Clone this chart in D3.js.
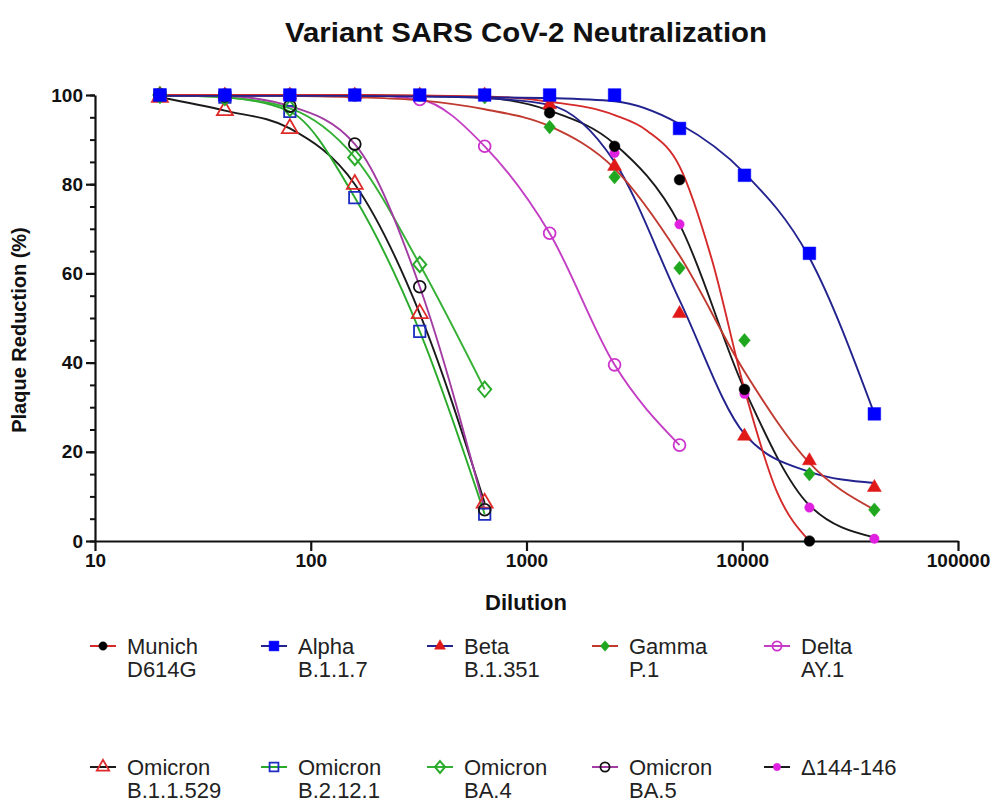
<!DOCTYPE html>
<html>
<head>
<meta charset="utf-8">
<script src="https://cdn.jsdelivr.net/npm/d3@7"></script>
<style>
  html, body { margin: 0; padding: 0; background: #fff; }
  svg { display: block; }
  text { font-family: "Liberation Sans", Arial, sans-serif; }
</style>
</head>
<body>
<svg id="chart" width="995" height="807"></svg>
<script>
// ---------- DATA ----------
const dilutions = [20, 40, 80, 160, 320, 640, 1280, 2560, 5120, 10240, 20480, 40960];
const xTicks = [10, 100, 1000, 10000, 100000];
const yTicks = [0, 20, 40, 60, 80, 100];

// measured points (values in order of dilutions)
const munichPts = [100, 100, 100, 100, 100, 100, 96, 88.5, 81, 34, 0];
const alphaPts  = [100, 100, 100, 100, 100, 100, 100, 100, 92.5, 82, 64.5, 28.5];
const betaPts   = [100, 100, 100, 100, 100, 100, 97.8, 84, 51, 23.5, 18, 12];
const gammaPts  = [100, 100, 100, 100, 100, 99.5, 92.8, 81.6, 61.2, 45, 15, 7];
const deltaPts  = [100, 100, 100, 100, 99, 88.5, 69, 39.5, 21.5];
const del144Pts = [100, 100, 100, 100, 100, 100, 100, 87, 71, 33, 7.5, 0.5];
const b11529Pts = [99.5, 96.5, 92.5, 80, 51, 8.5];
const b2121Pts  = [100, 99.5, 96.3, 77, 47, 6];
const ba4Pts    = [100, 99.5, 97, 86, 62, 34];
const ba5Pts    = [100, 99.8, 97.5, 89, 57, 7];

// fitted curves
const munichFitX = [20, 40, 80, 160, 320, 640, 1280, 2560, 3620, 5120, 7240, 10240, 14480, 20480];
const munichFit  = [100, 100, 100, 100, 99.9, 99.7, 98.5, 95.5, 92, 84, 63, 34, 11, 0];
const alphaFit   = [99.8, 99.8, 99.8, 99.8, 99.7, 99.5, 99.3, 98.6, 93.5, 82.5, 63.5, 28.5];
const betaFit    = [99.9, 99.9, 99.9, 99.8, 99.7, 99.3, 97.8, 85, 54, 24, 15.5, 13];
const gammaFit   = [99.9, 99.9, 99.8, 99.5, 98.8, 96.8, 93, 83.5, 64, 38, 17.5, 7];
const del144Fit  = [100, 100, 100, 99.9, 99.8, 99.4, 96.5, 89, 71, 34, 8, 0.8];

const names = [
  ["Munich", "D614G"], ["Alpha", "B.1.1.7"], ["Beta", "B.1.351"], ["Gamma", "P.1"], ["Delta", "AY.1"],
  ["Omicron", "B.1.1.529"], ["Omicron", "B.2.12.1"], ["Omicron", "BA.4"], ["Omicron", "BA.5"], ["\u0394144-146", ""]
];

// ---------- STYLE ----------
const zip = (xs, ys) => ys.map((v, i) => [xs[i], v]);
const series = [
  { key: "munich", pts: zip(dilutions, munichPts), fit: zip(munichFitX, munichFit), line: "#d42a2a", mark: "#000000", shape: d3.symbolCircle, size: 90, open: false },
  { key: "alpha",  pts: zip(dilutions, alphaPts),  fit: zip(dilutions, alphaFit),  line: "#23238f", mark: "#0000ff", shape: d3.symbolSquare, size: 160, open: false },
  { key: "beta",   pts: zip(dilutions, betaPts),   fit: zip(dilutions, betaFit),   line: "#23238f", mark: "#e01818", shape: d3.symbolTriangle, size: 85, open: false },
  { key: "gamma",  pts: zip(dilutions, gammaPts),  fit: zip(dilutions, gammaFit),  line: "#c03a30", mark: "#1fa81f", shape: d3.symbolDiamond, size: 75, open: false },
  { key: "delta",  pts: zip(dilutions, deltaPts),  fit: zip(dilutions, deltaPts),  line: "#c43ec4", mark: "#cc33cc", shape: d3.symbolCircle, size: 110, open: true },
  { key: "b11529", pts: zip(dilutions, b11529Pts), fit: zip(dilutions, b11529Pts), line: "#1a1a1a", mark: "#e02a2a", shape: d3.symbolTriangle, size: 110, open: true },
  { key: "b2121",  pts: zip(dilutions, b2121Pts),  fit: zip(dilutions, b2121Pts),  line: "#2aaa2a", mark: "#1c2cc0", shape: d3.symbolSquare, size: 130, open: true },
  { key: "ba4",    pts: zip(dilutions, ba4Pts),    fit: zip(dilutions, ba4Pts),    line: "#35b035", mark: "#2aaa2a", shape: d3.symbolDiamond, size: 95, open: true },
  { key: "ba5",    pts: zip(dilutions, ba5Pts),    fit: zip(dilutions, ba5Pts),    line: "#a23ca2", mark: "#111111", shape: d3.symbolCircle, size: 110, open: true },
  { key: "del144", pts: zip(dilutions, del144Pts), fit: zip(dilutions, del144Fit), line: "#1a1a1a", mark: "#e020e0", shape: d3.symbolCircle, size: 70, open: false }
];

// ---------- CHART ----------
const svg = d3.select("#chart");
const x = d3.scaleLog().domain([10, 100000]).range([95, 958]);
const y = d3.scaleLinear().domain([0, 100]).range([541, 95]);

svg.append("text").attr("x", 526).attr("y", 42).attr("text-anchor", "middle")
  .attr("font-size", 27).attr("font-weight", "bold").attr("fill", "#111")
  .attr("textLength", 482).attr("lengthAdjust", "spacingAndGlyphs")
  .text("Variant SARS CoV-2 Neutralization");

// axes
const yMinor = svg.append("g").attr("transform", "translate(95,0)")
  .call(d3.axisLeft(y).tickValues(d3.range(0, 101, 5)).tickSize(5).tickFormat(""));
yMinor.select(".domain").remove();
yMinor.selectAll("line").attr("stroke", "#111").attr("stroke-width", 2);

const yAxis = svg.append("g").attr("transform", "translate(95,0)")
  .call(d3.axisLeft(y).tickValues(yTicks).tickSize(9).tickPadding(3).tickSizeOuter(0));
yAxis.select(".domain").attr("stroke", "#111").attr("stroke-width", 2.2);
yAxis.selectAll("line").attr("stroke", "#111").attr("stroke-width", 2.2);
yAxis.selectAll("text").attr("font-size", 19).attr("font-weight", "bold").attr("fill", "#111")
  .attr("font-family", "Liberation Sans, Arial, sans-serif");

const xAxis = svg.append("g").attr("transform", "translate(0,541)")
  .call(d3.axisBottom(x).tickValues(xTicks).tickFormat(d3.format("d")).tickSize(10).tickPadding(3).tickSizeOuter(0));
xAxis.select(".domain").attr("stroke", "#111").attr("stroke-width", 2.2);
xAxis.selectAll("line").attr("stroke", "#111").attr("stroke-width", 2.2);
xAxis.selectAll("text").attr("font-size", 19).attr("font-weight", "bold").attr("fill", "#111")
  .attr("font-family", "Liberation Sans, Arial, sans-serif");

svg.append("text").attr("x", 526).attr("y", 610).attr("text-anchor", "middle")
  .attr("font-size", 22).attr("font-weight", "bold").attr("fill", "#111").text("Dilution");

svg.append("text").attr("transform", "translate(26,330) rotate(-90)").attr("text-anchor", "middle")
  .attr("font-size", 20).attr("font-weight", "bold").attr("fill", "#111").text("Plaque Reduction (%)");

// curves
const line = d3.line().x(d => x(d[0])).y(d => y(d[1])).curve(d3.curveMonotoneX);
const order = [4, 5, 6, 7, 8, 9, 2, 3, 0, 1];
order.forEach(i => {
  const s = series[i];
  svg.append("path").datum(s.fit).attr("d", line)
    .attr("fill", "none").attr("stroke", s.line).attr("stroke-width", 1.9);
});

// markers
const drawMark = (g, s, cx, cy, size) => {
  g.append("path").attr("d", d3.symbol().type(s.shape).size(size)())
    .attr("transform", `translate(${cx},${cy})` + (s.shape === d3.symbolDiamond ? " scale(1.25,0.85)" : ""))
    .attr("fill", s.open ? "none" : s.mark)
    .attr("stroke", s.mark).attr("stroke-width", s.open ? 1.8 : 0.5);
};
order.forEach(i => {
  const s = series[i];
  const g = svg.append("g");
  s.pts.forEach(p => drawMark(g, s, x(p[0]), y(p[1]), s.size));
});

// legend
const colX = [103, 274, 440, 605, 777];
const rowY = [646, 767];
series.forEach((s, i) => {
  const cx = colX[i % 5], cy = rowY[Math.floor(i / 5)];
  const g = svg.append("g");
  g.append("line").attr("x1", cx - 13).attr("x2", cx + 13).attr("y1", cy).attr("y2", cy)
    .attr("stroke", s.line).attr("stroke-width", 2);
  drawMark(g, s, cx, cy, s.size * 0.6);
  const t = g.append("text").attr("x", cx + 24).attr("y", cy + 8)
    .attr("font-size", 22).attr("fill", "#222");
  t.append("tspan").attr("x", cx + 24).text(names[i][0]);
  if (names[i][1]) t.append("tspan").attr("x", cx + 24).attr("dy", 23).text(names[i][1]);
});
</script>
</body>
</html>
